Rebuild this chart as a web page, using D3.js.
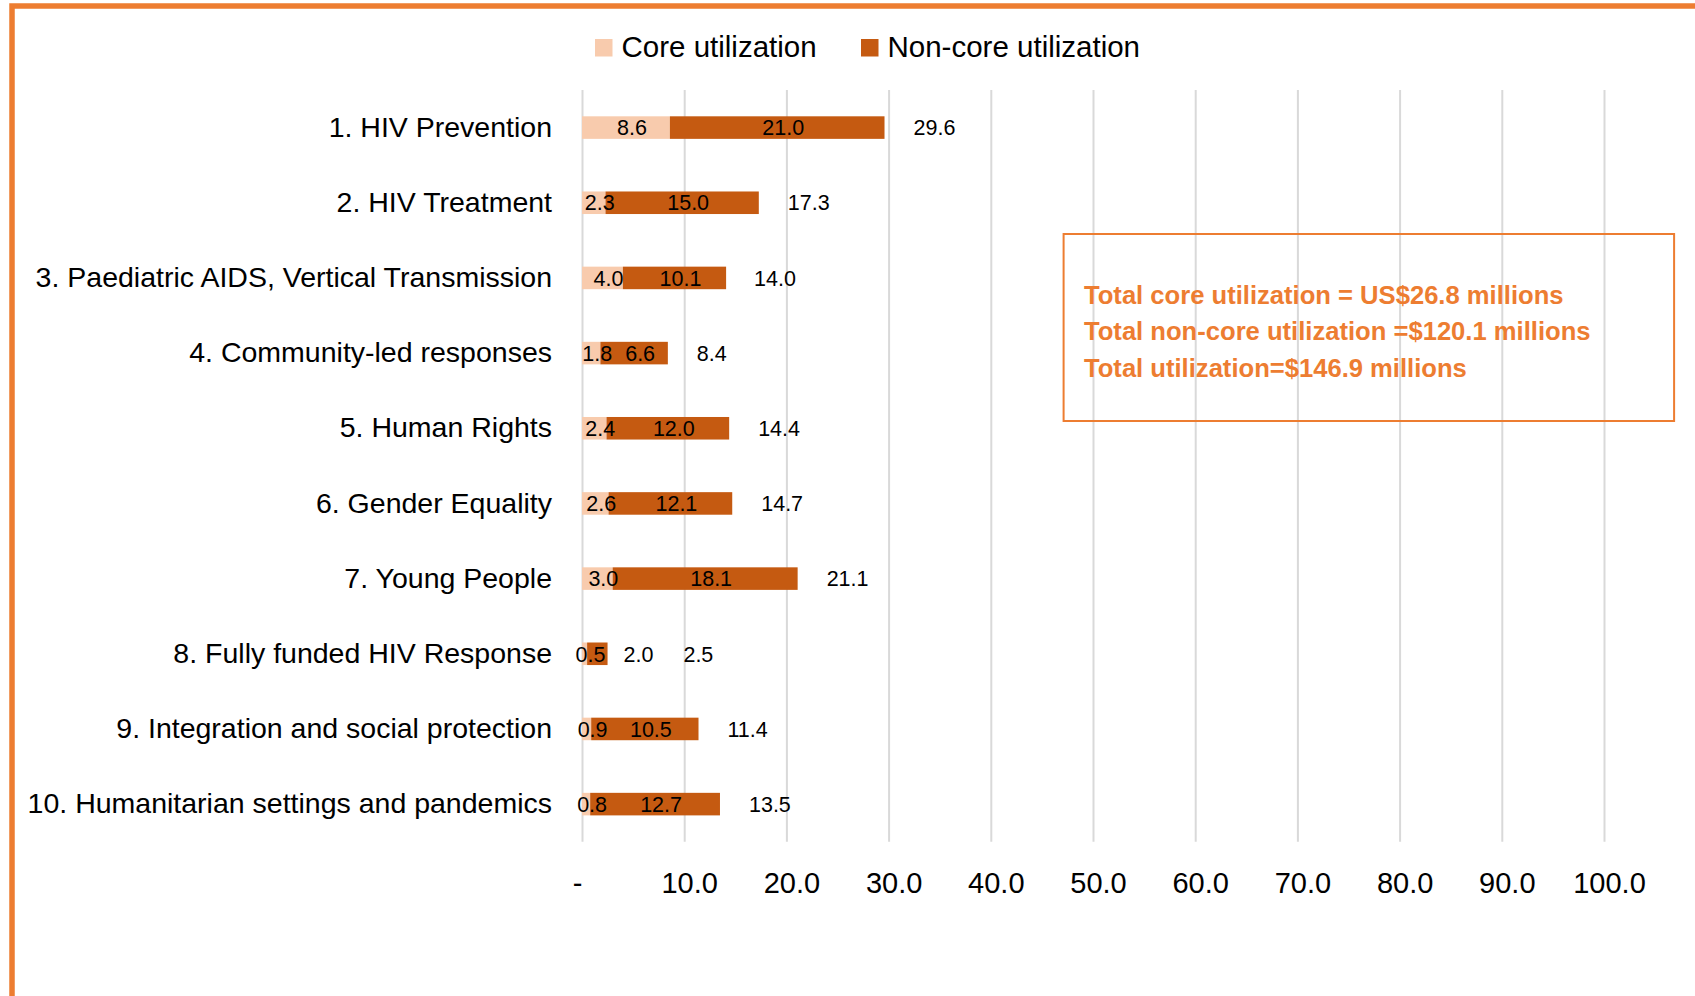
<!DOCTYPE html>
<html>
<head>
<meta charset="utf-8">
<script src="https://cdn.jsdelivr.net/npm/d3@7"></script>
<style>
  html, body { margin: 0; padding: 0; background: #ffffff; }
  svg { display: block; }
  text { font-family: "Liberation Sans", Arial, sans-serif; fill: #000; }
</style>
</head>
<body>
<svg id="chart" width="1695" height="996"></svg>
<script>
// ---- data ----
const categories = [
  "1. HIV Prevention",
  "2. HIV Treatment",
  "3. Paediatric AIDS, Vertical Transmission",
  "4. Community-led responses",
  "5. Human Rights",
  "6. Gender Equality",
  "7. Young People",
  "8. Fully funded HIV Response",
  "9. Integration and social protection",
  "10. Humanitarian settings and pandemics"
];
const coreValues    = [8.6, 2.3, 4.0, 1.8, 2.4, 2.6, 3.0, 0.5, 0.9, 0.8];
const nonCoreValues = [21.0, 15.0, 10.1, 6.6, 12.0, 12.1, 18.1, 2.0, 10.5, 12.7];
const totalValues   = [29.6, 17.3, 14.0, 8.4, 14.4, 14.7, 21.1, 2.5, 11.4, 13.5];
const seriesNames   = ["Core utilization", "Non-core utilization"];
const tickValues    = [0, 10, 20, 30, 40, 50, 60, 70, 80, 90, 100];
const noteLines = [
  "Total core utilization = US$26.8 millions",
  "Total non-core utilization =$120.1 millions",
  "Total utilization=$146.9 millions"
];

// ---- style ----
const coreColor = "#F8CBAD";
const nonCoreColor = "#C55A11";
const accent = "#ED7D31";
const gridColor = "#D9D9D9";

const svg = d3.select("#chart");

// frame border (extends beyond right/bottom edges)
svg.append("rect")
  .attr("x", 12).attr("y", 6)
  .attr("width", 2000).attr("height", 2000)
  .attr("fill", "none").attr("stroke", accent).attr("stroke-width", 5.5);

const plotTop = 90, plotBottom = 841.7;
const x = d3.scaleLinear().domain([0, 100]).range([582, 1604]);
const y = d3.scaleBand().domain(categories).range([plotTop, plotBottom])
  .paddingInner(0.7).paddingOuter(0.35);

// gridlines + x tick labels
const xAxis = d3.axisBottom(x)
  .tickValues(tickValues)
  .tickSizeInner(-(plotBottom - plotTop))
  .tickSizeOuter(0)
  .tickPadding(31)
  .tickFormat(d => d === 0 ? "-" : d3.format(".1f")(d));
const gx = svg.append("g").attr("transform", `translate(0,${plotBottom})`).call(xAxis);
gx.select(".domain").remove();
gx.selectAll(".tick line").attr("stroke", gridColor).attr("stroke-width", 2);
gx.selectAll(".tick text")
  .attr("font-size", 29)
  .attr("font-family", "Liberation Sans, Arial, sans-serif")
  .attr("fill", "#000")
  .attr("dx", d => d === 0 ? -5 : 5);

// category axis
const yAxis = d3.axisLeft(y).tickSize(0).tickPadding(30);
const gy = svg.append("g").attr("transform", `translate(${x(0)},0)`).call(yAxis);
gy.select(".domain").remove();
gy.selectAll(".tick text")
  .attr("font-size", 28.5)
  .attr("font-family", "Liberation Sans, Arial, sans-serif")
  .attr("fill", "#000");

// stacked data
const rows = categories.map((c, i) => ({
  cat: c, core: coreValues[i], nonCore: nonCoreValues[i], total: totalValues[i]
}));
const stack = d3.stack().keys(["core", "nonCore"]);
const stacked = stack(rows);
const colors = [coreColor, nonCoreColor];

const layers = svg.append("g").selectAll("g").data(stacked).join("g")
  .attr("fill", (d, i) => colors[i]);
layers.selectAll("rect").data(d => d).join("rect")
  .attr("x", d => x(d[0]))
  .attr("y", d => y(d.data.cat))
  .attr("width", d => x(d[1]) - x(d[0]))
  .attr("height", y.bandwidth());

// data labels
const labelSize = 21.5;
const labelG = svg.append("g")
  .attr("font-size", labelSize)
  .attr("font-family", "Liberation Sans, Arial, sans-serif");
const fmt = d3.format(".1f");

rows.forEach((r, i) => {
  const cy = y(r.cat) + y.bandwidth() / 2;
  const coreMid = (x(0) + x(r.core)) / 2;
  labelG.append("text")
    .attr("x", coreMid + 6).attr("y", cy).attr("dy", "0.36em")
    .attr("text-anchor", "middle").text(fmt(r.core));

  const barEnd = x(r.core + r.nonCore);
  const ncText = labelG.append("text").attr("y", cy).attr("dy", "0.36em").text(fmt(r.nonCore));
  const ncW = ncText.node().getComputedTextLength();
  const segW = barEnd - x(r.core);
  let totalStart;
  if (segW < ncW * 1.2) {
    // too narrow: label placed just after the bar
    ncText.attr("x", barEnd + 16).attr("text-anchor", "start");
    totalStart = barEnd + 16 + ncW + 30;
  } else {
    ncText.attr("x", (x(r.core) + barEnd) / 2 + 6).attr("text-anchor", "middle");
    totalStart = x(r.total) + 29;
  }
  labelG.append("text")
    .attr("x", totalStart).attr("y", cy).attr("dy", "0.36em")
    .attr("text-anchor", "start").text(fmt(r.total));
});

// legend
const legend = svg.append("g").selectAll("g").data(seriesNames).join("g")
  .attr("transform", (d, i) => `translate(${i === 0 ? 595 : 861},39)`);
legend.append("rect").attr("width", 17.5).attr("height", 17.5)
  .attr("fill", (d, i) => colors[i]);
legend.append("text").attr("x", 26.5).attr("y", 18)
  .attr("font-size", 29.5).text(d => d);

// note box
svg.append("rect")
  .attr("x", 1063.6).attr("y", 234).attr("width", 610.5).attr("height", 187)
  .attr("fill", "none").attr("stroke", accent).attr("stroke-width", 2);
svg.append("g").selectAll("text").data(noteLines).join("text")
  .attr("x", 1084)
  .attr("y", (d, i) => 304 + i * 36.3)
  .attr("font-size", 25.6)
  .attr("font-weight", "bold")
  .style("fill", accent)
  .text(d => d);
</script>
</body>
</html>
